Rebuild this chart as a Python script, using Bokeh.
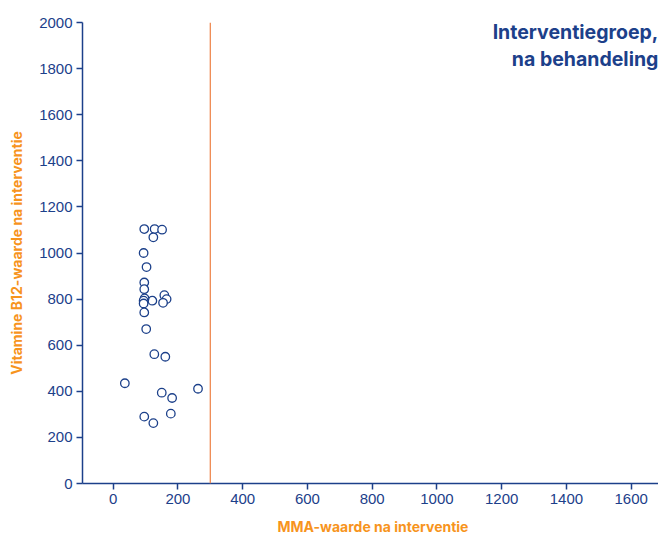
from bokeh.plotting import figure
from bokeh.models import Range1d, FixedTicker, Span, Label, ColumnDataSource, Title
from bokeh.embed import file_html
from bokeh.resources import INLINE

mma = [96, 128, 151, 124, 94, 103, 96, 96, 158, 165, 154, 121, 97, 94, 94, 96,
       102, 127, 161, 36, 150, 262, 182, 178, 96, 124]
b12 = [1104, 1104, 1101, 1068, 1000, 939, 872, 843, 817, 800, 784, 793, 803, 793, 781, 742,
       670, 561, 550, 435, 394, 411, 371, 303, 290, 262]
x_ticks = [0, 200, 400, 600, 800, 1000, 1200, 1400, 1600]
y_ticks = [0, 200, 400, 600, 800, 1000, 1200, 1400, 1600, 1800, 2000]
threshold = 300
title_lines = ["Interventiegroep,", "na behandeling"]
x_label = "MMA-waarde na interventie"
y_label = "Vitamine B12-waarde na interventie"

NAVY = "#1c408a"
ORANGE = "#f7941d"
LINE_OR = "#ef8a52"

p = figure(width=658, height=543, output_backend="svg", toolbar_location=None,
           x_range=Range1d(-94.8, 1684.4), y_range=Range1d(0, 2000),
           min_border_left=82, min_border_right=0, min_border_top=22, min_border_bottom=60)
p.outline_line_color = None
p.grid.visible = False
p.background_fill_color = "white"
p.border_fill_color = "white"

for ax in (p.xaxis[0], p.yaxis[0]):
    ax.axis_line_color = NAVY
    ax.axis_line_width = 1.5
    ax.major_tick_line_color = NAVY
    ax.major_tick_line_width = 1.5
    ax.major_tick_in = 0
    ax.major_tick_out = 6
    ax.minor_tick_line_color = None
    ax.major_label_text_color = NAVY
    ax.major_label_text_font = "Liberation Sans"
    ax.major_label_text_font_size = "15px"
    ax.axis_label_text_color = ORANGE
    ax.axis_label_text_font = "Inter"
    ax.axis_label_text_font_style = "bold"
    ax.axis_label_text_font_size = "14px"

p.xaxis.ticker = FixedTicker(ticks=x_ticks)
p.yaxis.ticker = FixedTicker(ticks=y_ticks)
p.yaxis.axis_label = y_label
p.xaxis.major_label_standoff = 4
p.yaxis.major_label_standoff = 4
p.yaxis.axis_label_standoff = 11

# x-axis title placed below the axis
p.add_layout(Title(text=x_label, align="left", offset=195, standoff=18,
                   text_color=ORANGE, text_font="Inter", text_font_style="bold",
                   text_font_size="14px"), "below")

p.add_layout(Span(location=threshold, dimension="height", line_color=LINE_OR, line_width=1.3))

src = ColumnDataSource(dict(x=mma, y=b12))
p.scatter("x", "y", source=src, size=8.5, fill_color="white", line_color=NAVY, line_width=1.3)

p.add_layout(Label(x=1684, y=1958, text=title_lines[0], text_align="right", text_baseline="middle",
                   text_color=NAVY, text_font="Inter", text_font_size="19.5px", text_font_style="bold"))
p.add_layout(Label(x=1684, y=1840, text=title_lines[1], text_align="right", text_baseline="middle",
                   text_color=NAVY, text_font="Inter", text_font_size="19.5px", text_font_style="bold"))

open("out.html", "w").write(file_html(p, INLINE))
